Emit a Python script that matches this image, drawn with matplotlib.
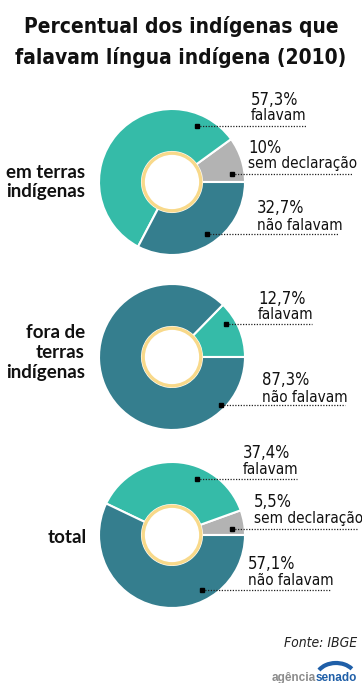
import matplotlib
matplotlib.use("Agg")
import matplotlib.pyplot as plt
from matplotlib.patches import Circle, Arc

# ---- data ----
groups = ["em terras\nindígenas", "fora de\nterras\nindígenas", "total"]
cat_names = ["sem declaração", "falavam", "não falavam"]
em_terras = [10.0, 57.3, 32.7]
fora_terras = [0.0, 12.7, 87.3]
total = [5.5, 37.4, 57.1]
pct_labels_em = ["10%", "57,3%", "32,7%"]
pct_labels_fora = ["", "12,7%", "87,3%"]
pct_labels_total = ["5,5%", "37,4%", "57,1%"]

colors = ["#B3B3B3", "#35BBA8", "#357E8E"]
ring_color = "#F8D98A"

COND = dict(family="DejaVu Sans", stretch="condensed")
BOLDF = ["Lato", "DejaVu Sans"]

fig = plt.figure(figsize=(3.62, 6.83), dpi=100)
ax = fig.add_axes([0, 0, 1, 1])

centers = [(172, 182), (172, 357), (172, 535)]
R = 73
r_in = 30

datasets = [em_terras, fora_terras, total]
pct_sets = [pct_labels_em, pct_labels_fora, pct_labels_total]

for (cx, cy), vals in zip(centers, datasets):
    ax.pie(vals, center=(cx, cy), radius=R, startangle=0, counterclock=False,
           colors=colors, wedgeprops=dict(width=R - r_in, edgecolor="white", linewidth=1.5))
    ax.add_patch(Circle((cx, cy), r_in - 1.2, facecolor="white", edgecolor=ring_color,
                        linewidth=2.4, zorder=5))

# annotation layout: (category idx, pct baseline, name baseline, text x, marker x, marker y, line end x)
annots = [
    [(1, 105, 120, 251, 197, 126, 307),
     (0, 153, 168, 248, 232, 174, 353),
     (2, 213, 230, 257, 207, 234, 338)],
    [(1, 304, 319, 258, 226, 324, 312),
     (2, 385, 402, 262, 221, 405, 345)],
    [(1, 458, 474, 243, 197, 479, 297),
     (0, 507, 523, 254, 232, 529, 358),
     (2, 569, 585, 248, 202, 590, 330)],
]

for pcts, group in zip(pct_sets, annots):
    for idx, yb1, yb2, tx, mx, my, lx in group:
        ax.text(tx, yb1, pcts[idx], fontsize=12, va="baseline",
                ha="left", color="#111111", **COND)
        ax.text(tx, yb2, cat_names[idx], fontsize=11, va="baseline",
                ha="left", color="#111111", **COND)
        ax.plot([mx, lx], [my, my], color="#222222", linestyle=(0, (1, 1.2)), lw=0.9, zorder=6)
        ax.plot([mx], [my], marker="s", color="black", markersize=3.5, zorder=7)

# group labels
group_pos = [(85, [178, 197]), (85, [338, 358, 378]), (87, [543])]
for name, (gx, ys) in zip(groups, group_pos):
    for line, yb in zip(name.split("\n"), ys):
        ax.text(gx, yb, line, fontsize=13.5, family=BOLDF, fontweight="bold",
                ha="right", va="baseline", color="#111111")

# title
ax.text(181, 33, "Percentual dos indígenas que", fontsize=15,
        fontweight="bold", ha="center", va="baseline", color="#111111", **COND)
ax.text(181, 64, "falavam língua indígena (2010)", fontsize=15,
        fontweight="bold", ha="center", va="baseline", color="#111111", **COND)

# source
ax.text(357, 647, "Fonte: IBGE", fontsize=10, style="italic",
        ha="right", va="baseline", color="#222222", **COND)

# logo
ax.text(316, 681, "agência", fontsize=8.5, family=["Liberation Sans", "DejaVu Sans"],
        fontweight="bold", ha="right", va="baseline", color="#8C8C8C")
ax.text(316, 681, "senado", fontsize=8.5, family=["Liberation Sans", "DejaVu Sans"],
        fontweight="bold", ha="left", va="baseline", color="#1F5FA8")
ax.add_patch(Arc((336, 678), 40, 30, theta1=205, theta2=330, color="#1F5FA8", lw=3))

ax.set_xlim(0, 362)
ax.set_ylim(683, 0)
ax.set_aspect("auto")
ax.axis("off")

fig.savefig("out.png", dpi=100, facecolor="white")
